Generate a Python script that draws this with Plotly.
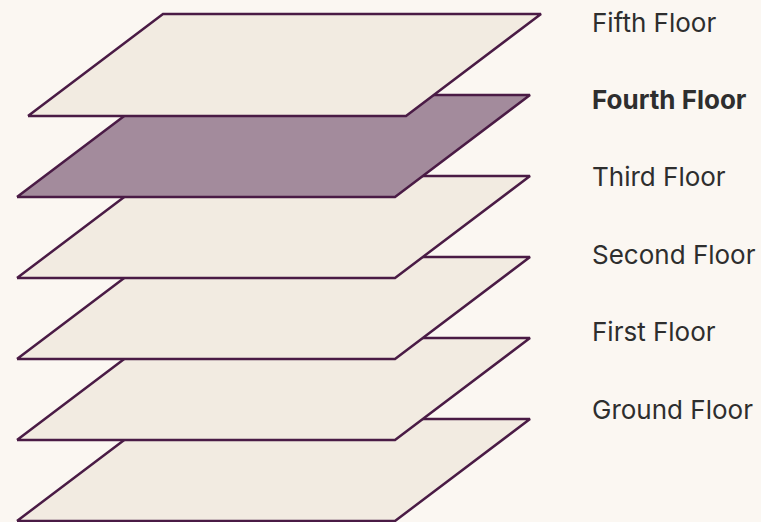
import plotly.graph_objects as go

# floors, bottom to top
floors      = ["Ground Floor", "First Floor", "Second Floor", "Third Floor", "Fourth Floor", "Fifth Floor"]
levels      = [0, 1, 2, 3, 4, 5]
highlighted = "Fourth Floor"

# colours
bg_color     = '#FBF7F2'
slab_color   = '#F2EBE1'
active_color = '#A38B9C'
edge_color   = '#4A1B45'
text_color   = '#2E2E2E'
font_family  = "Inter"

# slab geometry (in pixel units of the axes)
slab_left   = 17
slab_width  = 378
slab_skew   = 135
slab_depth  = 102
base_bottom = 521
floor_step  = 81
top_shift   = {"Fifth Floor": 11}

# label placement
label_x    = 590
label_base = 409
label_step = 77.4

fig = go.Figure()

for name, lvl in zip(floors, levels):
    x0 = slab_left + top_shift.get(name, 0)
    yb = base_bottom - floor_step * lvl
    yt = yb - slab_depth
    xs = [x0, x0 + slab_width, x0 + slab_width + slab_skew, x0 + slab_skew, x0]
    ys = [yb, yb, yt, yt, yb]
    fig.add_trace(go.Scatter(
        x=xs, y=ys,
        mode='lines',
        fill='toself',
        fillcolor=active_color if name == highlighted else slab_color,
        line=dict(color=edge_color, width=2.5),
        hoverinfo='skip',
        showlegend=False
    ))

for name, lvl in zip(floors, levels):
    fig.add_annotation(
        text=f"<b>{name}</b>" if name == highlighted else name,
        x=label_x, y=label_base - label_step * lvl,
        xref='x', yref='y',
        xanchor='left', yanchor='middle',
        showarrow=False,
        font=dict(size=26, color=text_color, family=font_family)
    )

fig.update_layout(
    width=761,
    height=522,
    margin=dict(t=0, b=0, l=0, r=0),
    paper_bgcolor=bg_color,
    plot_bgcolor=bg_color,
    xaxis=dict(range=[0, 761], visible=False, fixedrange=True),
    yaxis=dict(range=[522, 0], visible=False, fixedrange=True),
)

# drop the default page margin so the figure sits flush with the window
fig.write_html("out.html",
               post_script="document.body.style.margin='0';document.body.style.background='" + bg_color + "';",
               config={'displayModeBar': False})
